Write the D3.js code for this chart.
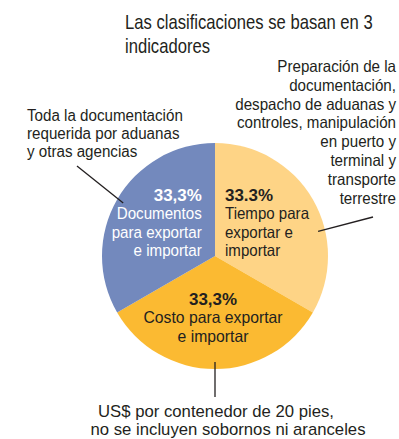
<!DOCTYPE html>
<html>
<head>
<meta charset="utf-8">
<script src="https://cdn.jsdelivr.net/npm/d3@7"></script>
<style>
  html, body { margin: 0; padding: 0; background: #ffffff; }
  svg { display: block; }
  text { font-family: "Liberation Sans", "DejaVu Sans Condensed", sans-serif; }
</style>
</head>
<body>
<svg id="chart" width="399" height="439"></svg>
<script>
// Indicator shares (clockwise from 12 o'clock)
const categories = ["Tiempo", "Costo", "Documentos"];
const shares = [33.3, 33.3, 33.3];
const shareLabels = ["33.3%", "33,3%", "33,3%"];
const sliceText = [
  ["Tiempo para", "exportar e", "importar"],
  ["Costo para exportar", "e importar"],
  ["Documentos", "para exportar", "e importar"]
];
const colors = ["#FED486", "#FBBA32", "#7389BD"];
const textColors = ["#231f20", "#231f20", "#ffffff"];

const titleLines = ["Las clasificaciones se basan en 3", "indicadores"];
const notes = [
  ["Preparación de la", "documentación,", "despacho de aduanas y", "controles, manipulación", "en puerto y", "terminal y", "transporte", "terrestre"],
  ["US$ por contenedor de 20 pies,", "no se incluyen sobornos ni aranceles"],
  ["Toda la documentación", "requerida por aduanas", "y otras agencias"]
];

const svg = d3.select("#chart");
const cx = 215, cy = 256, R = 113;

// Draws a multi-line text in a condensed setting: the whole block is squeezed
// horizontally (about the first anchor) so that line `fit` is `width` px wide.
function textBlock(parent, lines, o) {
  const px = o.x[0];
  const t = parent.append("text")
    .attr("text-anchor", o.anchor)
    .attr("font-size", o.size)
    .attr("fill", o.fill);
  const spans = lines.map((line, j) => t.append("tspan")
    .attr("x", o.x[Math.min(j, o.x.length - 1)])
    .attr("y", o.y + j * o.lh)
    .attr("font-weight", o.bold && o.bold[j] ? "bold" : null)
    .text(line));
  const k = o.width / spans[o.fit].node().getComputedTextLength();
  // keep each line's anchor where it belongs once the block is scaled
  spans.forEach((s, j) => {
    const target = o.x[Math.min(j, o.x.length - 1)];
    s.attr("x", px + (target - px) / k);
    if (o.bold && o.bold[j] && o.boldWidth) {
      s.attr("textLength", o.boldWidth / k).attr("lengthAdjust", "spacingAndGlyphs");
    }
  });
  t.attr("transform", `translate(${px},0) scale(${k},1) translate(${-px},0)`);
  return t;
}

// Title
textBlock(svg, titleLines, {
  x: [125], y: 29, lh: 24, anchor: "start", size: 19.5,
  fill: "#231f20", fit: 0, width: 248
});

const pie = d3.pie().sort(null).value(d => d);
const arcs = pie(shares);
const arc = d3.arc().innerRadius(0).outerRadius(R);

const g = svg.append("g").attr("transform", `translate(${cx},${cy})`);
g.selectAll("path.slice").data(arcs).join("path")
  .attr("class", "slice")
  .attr("d", arc)
  .attr("fill", (d, i) => colors[i]);

// Slice labels: anchor position, alignment and fitted width per slice
const labelLayout = [
  { x: 10, y: -55.5, anchor: "start", fit: 1, width: 84 },
  { x: -2, y: 49, anchor: "middle", fit: 1, width: 139 },
  { x: -13.3, y: -55.5, anchor: "end", fit: 1, width: 85 }
];
arcs.forEach((a, i) => {
  const L = labelLayout[i];
  const lines = [shareLabels[i], ...sliceText[i]];
  textBlock(g, lines, {
    x: [L.x], y: L.y, lh: 18.5, anchor: L.anchor, size: 16.3,
    fill: textColors[i], fit: L.fit, width: L.width,
    bold: lines.map((d, j) => j === 0), boldWidth: 48
  });
});

// Leader lines from each slice to its note
const leaderR = 106;
const leaders = [
  { angle: 76.6, to: [373, 217] },
  { angle: 180, to: [215, 397] },
  { angle: 300, to: [77, 166] }
];
leaders.forEach(l => {
  const rad = l.angle * Math.PI / 180;
  svg.append("line")
    .attr("x1", cx + leaderR * Math.sin(rad))
    .attr("y1", cy - leaderR * Math.cos(rad))
    .attr("x2", l.to[0]).attr("y2", l.to[1])
    .attr("stroke", "#231f20").attr("stroke-width", 1.3);
});

// Notes
const noteLayout = [
  { x: [396], y: 72, lh: 18.8, anchor: "end", fit: 3, width: 159, size: 16.3 },
  { x: [216, 228], y: 417, lh: 18.3, anchor: "middle", fit: 1, width: 275, size: 16.2 },
  { x: [27], y: 121, lh: 17.8, anchor: "start", fit: 0, width: 156, size: 15.8 }
];
notes.forEach((lines, i) => {
  const L = noteLayout[i];
  textBlock(svg, lines, {
    x: L.x, y: L.y, lh: L.lh, anchor: L.anchor, size: L.size,
    fill: "#231f20", fit: L.fit, width: L.width
  });
});
</script>
</body>
</html>
